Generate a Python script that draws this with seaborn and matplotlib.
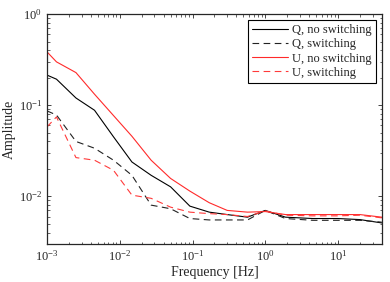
import pandas as pd
import numpy as np
import matplotlib
matplotlib.use("Agg")
import matplotlib.pyplot as plt
import seaborn as sns

sns.set_style("ticks")
plt.rcParams['font.family'] = ['Liberation Serif', 'DejaVu Serif']
plt.rcParams['mathtext.fontset'] = 'custom'
plt.rcParams['mathtext.rm'] = 'Liberation Serif'
plt.rcParams['mathtext.it'] = 'Liberation Serif:italic'

# Data
freq = [0.001, 0.00135, 0.0025, 0.0045, 0.0082, 0.0147, 0.027, 0.05, 0.092,
        0.17, 0.3, 0.57, 1.0, 1.9, 4.5, 10, 20, 40]
q_noswitch = [0.214, 0.193, 0.120, 0.088, 0.045, 0.0238, 0.0170, 0.0127, 0.0078,
              0.0067, 0.0063, 0.0059, 0.0070, 0.0059, 0.0057, 0.0057, 0.00555, 0.0051]
q_switch = [0.0866, 0.078, 0.040, 0.0337, 0.0249, 0.017, 0.0080, 0.0073, 0.0057,
            0.0055, 0.0055, 0.0055, 0.0070, 0.0057, 0.00545, 0.00545, 0.00545, 0.0052]
u_noswitch = [0.385, 0.299, 0.228, 0.132, 0.077, 0.0456, 0.0249, 0.0157, 0.0114,
              0.0085, 0.0070, 0.0067, 0.0068, 0.0063, 0.0063, 0.0063, 0.0063, 0.0059]
u_switch = [0.0578, 0.0743, 0.0266, 0.0249, 0.0193, 0.0103, 0.0095, 0.0076, 0.0067,
            0.00645, 0.0063, 0.0060, 0.0069, 0.0062, 0.0061, 0.0061, 0.0062, 0.0058]

labels = ['Q, no switching', 'Q, switching', 'U, no switching', 'U, switching']
series = [q_noswitch, q_switch, u_noswitch, u_switch]

df = pd.concat([pd.DataFrame({'freq': freq, 'amp': s, 'series': l})
                for l, s in zip(labels, series)], ignore_index=True)

fig = plt.figure(figsize=(3.9, 2.82), dpi=100)
ax = fig.add_axes([0.1205, 0.135, 0.8585, 0.815])

palette = {'Q, no switching': 'black', 'Q, switching': '#222222',
           'U, no switching': '#ff2a2a', 'U, switching': '#ff3a3a'}
dashes = {'Q, no switching': '', 'Q, switching': (6, 4),
          'U, no switching': '', 'U, switching': (6, 4)}

sns.lineplot(data=df, x='freq', y='amp', hue='series', style='series',
             palette=palette, dashes=dashes, hue_order=labels, style_order=labels,
             linewidth=0.8, ax=ax)

ax.set_xscale('log')
ax.set_yscale('log')
ax.set_xlim(1e-3, 40)
ax.set_ylim(3e-3, 1)
ax.set_xlabel('Frequency [Hz]', fontsize=10, labelpad=2)
ax.set_ylabel('Amplitude', fontsize=10, labelpad=2)
ax.tick_params(which='both', direction='in', top=True, right=True, labelsize=9)
ax.tick_params(which='major', length=3, width=0.6)
ax.tick_params(which='minor', length=1.8, width=0.5)
for sp in ax.spines.values():
    sp.set_linewidth(0.9)
    sp.set_visible(True)

leg = ax.legend(loc='upper right', fontsize=9, frameon=True, fancybox=False,
                edgecolor='black', framealpha=1, handlelength=2.9,
                borderpad=0.3, labelspacing=0.18, handletextpad=0.3,
                borderaxespad=0.5)
leg.get_frame().set_linewidth(0.8)

fig.savefig('out.png', dpi=100)
